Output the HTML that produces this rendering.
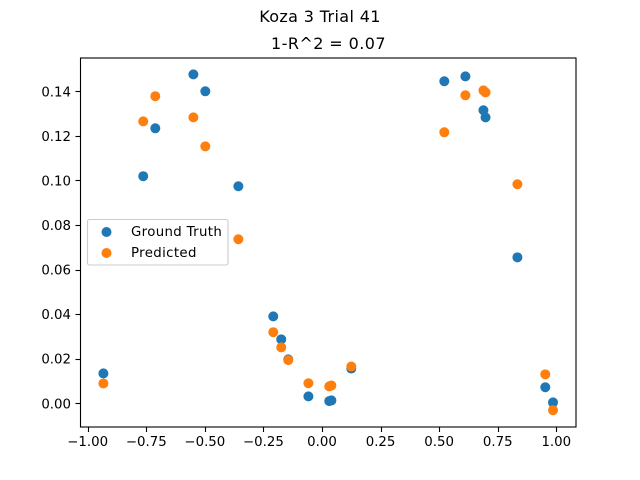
<!DOCTYPE html>
<html>
<head>
<meta charset="utf-8">
<title>Koza 3 Trial 41</title>
<style>
html,body{margin:0;padding:0;background:#fff;}
svg{display:block;}
text{font-family:"DejaVu Sans","Liberation Sans",sans-serif;fill:#000;}
</style>
</head>
<body>
<svg id="chart" xmlns="http://www.w3.org/2000/svg" width="640" height="480" viewBox="0 0 640 480">
  <rect x="0" y="0" width="640" height="480" fill="#fff"/>
  <text x="320" y="22" font-size="16" text-anchor="middle" style="letter-spacing:0.36px">Koza 3 Trial 41</text>
  <text x="328.5" y="49" font-size="16" text-anchor="middle" style="letter-spacing:0.42px">1-R^2 = 0.07</text>
  <g id="ticks"></g>
  <g id="marks"></g>
  <rect x="80.5" y="58" width="495.5" height="369" fill="none" stroke="#000" stroke-width="1.1"/>
  <g>
    <rect x="87.5" y="219.5" width="140.5" height="45.5" rx="2" ry="2" fill="#fff" fill-opacity="0.8" stroke="#ccc" stroke-width="1.1"/>
    <circle cx="106.5" cy="232" r="5" fill="#1f77b4"/>
    <text x="131" y="236" font-size="13.33" style="letter-spacing:0.34px">Ground Truth</text>
    <circle cx="106.5" cy="253" r="5" fill="#ff7f0e"/>
    <text x="131" y="257" font-size="13.33" style="letter-spacing:0.36px">Predicted</text>
  </g>
</svg>
<script>
const xValues = [-0.933,-0.763,-0.7115,-0.549,-0.498,-0.357,-0.208,-0.174,-0.144,-0.058,0.031,0.040,0.125,0.522,0.612,0.689,0.698,0.834,0.953,0.986];
const groundTruth = [0.0134,0.1019,0.1234,0.1476,0.1400,0.0974,0.0390,0.0287,0.0197,0.0031,0.0010,0.0013,0.0156,0.1445,0.1467,0.1315,0.1283,0.0655,0.0072,0.0004];
const predicted = [0.0089,0.1265,0.1378,0.1283,0.1153,0.0736,0.0319,0.0251,0.0194,0.0090,0.0076,0.0080,0.0165,0.1216,0.1382,0.1404,0.1395,0.0983,0.0130,-0.0031];
const xTicks = [-1,-0.75,-0.5,-0.25,0,0.25,0.5,0.75,1];
const yTicks = [0,0.02,0.04,0.06,0.08,0.1,0.12,0.14];

const NS = 'http://www.w3.org/2000/svg';
function xScale(v){ return 322 + v * 234.3; }
function yScale(v){ return 403.3 - v * 2228.6; }
function fmt(v, digits){
  return (v < 0 ? '\u2212' : '') + Math.abs(v).toFixed(digits);
}
function make(parent, tag, attrs){
  const el = document.createElementNS(NS, tag);
  for (const k in attrs) el.setAttribute(k, attrs[k]);
  parent.appendChild(el);
  return el;
}
const ticksGroup = document.getElementById('ticks');
const marksGroup = document.getElementById('marks');

xTicks.forEach(function(t){
  const px = Math.round(xScale(t)) + 0.5;
  const line = make(ticksGroup, 'line', {x1:px, x2:px, y1:427, y2:432, stroke:'#000', 'stroke-width':1.1});
  
  
  const label = make(ticksGroup, 'text', {x:xScale(t), y:446, 'font-size':13.33, 'text-anchor':'middle'});
  
  
  label.textContent = fmt(t, 2);
});
yTicks.forEach(function(t){
  const py = Math.round(yScale(t)) + 0.5;
  const line = make(ticksGroup, 'line', {x1:75.5, x2:80, y1:py, y2:py, stroke:'#000', 'stroke-width':1.1});
  
  
  const label = make(ticksGroup, 'text', {x:71, y:yScale(t) + 5, 'font-size':13.33, 'text-anchor':'end'});
  
  
  label.textContent = fmt(t, 2);
});
groundTruth.forEach(function(v, i){
  const c = make(marksGroup, 'circle', {cx:xScale(xValues[i]), cy:yScale(v), r:5, fill:'#1f77b4'});
  
  
});
predicted.forEach(function(v, i){
  const c = make(marksGroup, 'circle', {cx:xScale(xValues[i]), cy:yScale(v), r:5, fill:'#ff7f0e'});
  
  
});
</script>
</body>
</html>
